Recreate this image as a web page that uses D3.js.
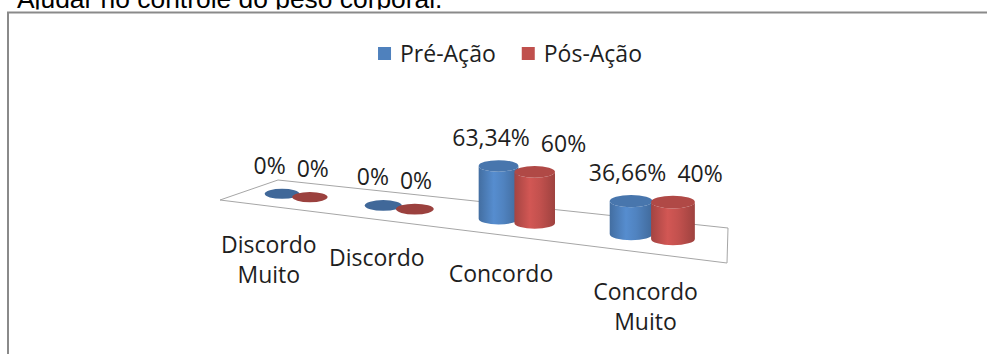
<!DOCTYPE html>
<html>
<head>
<meta charset="utf-8">
<script src="https://cdn.jsdelivr.net/npm/d3@7"></script>
<style>
  html, body { margin: 0; padding: 0; background: #fff; }
  svg { display: block; }
</style>
</head>
<body>
<script>
// ---- data ----
const title = "Ajudar no controle do peso corporal.";
const categories = ["Discordo Muito", "Discordo", "Concordo", "Concordo Muito"];
const seriesNames = ["Pré-Ação", "Pós-Ação"];
const preValues = [0, 0, 63.34, 36.66];
const posValues = [0, 0, 60, 40];
const seriesColors = ["#4F81BD", "#C0504D"];

// ---- layout ----
const W = 987, H = 354;
const font = "'Open Sans', 'Noto Sans', sans-serif";
// floor of the 3-D plot: front-left, front-right, back-right, back-left
const floorQuad = [[220, 200], [727, 263], [728, 228], [278, 180]];
const horizonY = 20;        // eye level of the perspective
const barDepth = 0.47;      // depth of the bar row on the floor (0 = front, 1 = back)
const labelDepth = 0.25;
const ellipseRatio = 0.29;  // vertical / horizontal radius of the cylinder caps

const fmtLocale = d3.formatLocale({ decimal: ",", thousands: ".", grouping: [3], currency: ["", ""] });
const fmtPct = v => fmtLocale.format(".2~f")(v) + "%";

// projective map of the unit square onto the floor quad
function squareToQuad(q) {
  const [[x0, y0], [x1, y1], [x2, y2], [x3, y3]] = q;
  const dx1 = x1 - x2, dx2 = x3 - x2, dx3 = x0 - x1 + x2 - x3;
  const dy1 = y1 - y2, dy2 = y3 - y2, dy3 = y0 - y1 + y2 - y3;
  const det = dx1 * dy2 - dy1 * dx2;
  const g = (dx3 * dy2 - dy3 * dx2) / det;
  const h = (dx1 * dy3 - dy1 * dx3) / det;
  const a = x1 - x0 + g * x1, b = x3 - x0 + h * x3, c = x0;
  const d = y1 - y0 + g * y1, e = y3 - y0 + h * y3, f = y0;
  return (u, v) => {
    const w = g * u + h * v + 1;
    return [(a * u + b * v + c) / w, (d * u + e * v + f) / w];
  };
}
const project = squareToQuad(floorQuad);

// scales
const x0 = d3.scaleBand().domain(categories).range([0, 1]);
const x1 = d3.scaleBand().domain(seriesNames).range([0, x0.bandwidth()]).paddingOuter(0.74);
const heightScale = d3.scaleLinear().domain([0, 100]).range([0, 0.42]); // relative to distance from eye level
const seriesValues = [preValues, posValues];

const svg = d3.select("body").append("svg").attr("width", W).attr("height", H);

// title (partly hidden behind the chart area)
svg.append("text")
  .attr("x", 17).attr("y", 8)
  .attr("font-family", "'Liberation Sans', Arial, sans-serif")
  .attr("font-size", 26.4)
  .attr("fill", "#000")
  .text(title);

svg.append("rect").attr("x", 0).attr("y", 9.5).attr("width", W).attr("height", H).attr("fill", "#fff");
svg.append("path")
  .attr("d", `M8,${H} V12.5 H${W}`)
  .attr("fill", "none").attr("stroke", "#8a8a8a").attr("stroke-width", 2);

// gradients for the cylinder bodies
const defs = svg.append("defs");
seriesColors.forEach((col, i) => {
  const c = d3.color(col);
  const gr = defs.append("linearGradient").attr("id", "body" + i)
    .attr("x1", 0).attr("x2", 1).attr("y1", 0).attr("y2", 0);
  [[0, c.darker(0.45)], [0.38, c.brighter(0.25)], [0.62, c.brighter(0.05)], [1, c.darker(0.55)]]
    .forEach(([o, cc]) => gr.append("stop").attr("offset", o).attr("stop-color", cc.formatHex()));
});

// floor
const floorPts = [[0, 0], [1, 0], [1, 1], [0, 1]].map(([u, v]) => project(u, v));
svg.append("path")
  .attr("d", "M" + floorPts.map(p => p.join(",")).join("L") + "Z")
  .attr("fill", "#fff").attr("stroke", "#a6a6a6").attr("stroke-width", 1);

// bars
const bars = [];
categories.forEach((cat, ci) => {
  seriesNames.forEach((s, si) => {
    const u = x0(cat) + x1(s) + x1.bandwidth() / 2;
    const [cx, yb] = project(u, barDepth);
    const dist = yb - horizonY;
    const value = seriesValues[si][ci];
    bars.push({ cat, ci, s, si, u, cx, yb, value,
      h: heightScale(value) * dist, rx: 0.1 * dist });
  });
});

const gBars = svg.append("g");
bars.forEach(b => {
  const ry = b.rx * ellipseRatio;
  const top = b.yb - b.h;
  const base = d3.color(seriesColors[b.si]);
  const g = gBars.append("g");
  if (b.h > 0) {
    g.append("path")
      .attr("d", `M${b.cx - b.rx},${top} L${b.cx - b.rx},${b.yb} A${b.rx},${ry} 0 0 0 ${b.cx + b.rx},${b.yb} L${b.cx + b.rx},${top} A${b.rx},${ry} 0 0 1 ${b.cx - b.rx},${top} Z`)
      .attr("fill", `url(#body${b.si})`);
  }
  g.append("ellipse")
    .attr("cx", b.cx).attr("cy", top).attr("rx", b.rx).attr("ry", ry)
    .attr("fill", (b.h > 0 ? base.darker(0.25) : base.darker(0.6)).formatHex());
  b.top = top;
});

// value labels
const gLab = svg.append("g").attr("font-family", font).attr("font-size", 23).attr("fill", "#1e1e1e");
categories.forEach((cat, ci) => {
  let prevRight = -Infinity;
  bars.filter(b => b.ci === ci).forEach(b => {
    const [ax] = project(b.u, labelDepth);
    const t = gLab.append("text").attr("y", b.top - 20).text(fmtPct(b.value));
    const w = t.node().getComputedTextLength();
    const left = Math.max(ax - w / 2, prevRight + 11);
    t.attr("x", left);
    prevRight = left + w;
  });
});

// category labels along the front edge
const gCat = svg.append("g").attr("font-family", font).attr("font-size", 23)
  .attr("fill", "#1e1e1e").attr("text-anchor", "middle");
categories.forEach(cat => {
  const [x, y] = project(x0(cat) + x0.bandwidth() / 2, 0);
  const t = gCat.append("text").attr("x", x).attr("y", y + 47);
  cat.split(" ").forEach((word, i) => {
    t.append("tspan").attr("x", x).attr("dy", i === 0 ? 0 : 30).text(word);
  });
});

// legend
const gLeg = svg.append("g").attr("font-family", font).attr("font-size", 23).attr("fill", "#1e1e1e");
let lx = 0;
const items = seriesNames.map((s, i) => {
  const g = gLeg.append("g").attr("transform", `translate(${lx},0)`);
  g.append("rect").attr("x", 0).attr("y", 47).attr("width", 13).attr("height", 13).attr("fill", seriesColors[i]);
  const t = g.append("text").attr("x", 22).attr("y", 62).text(s);
  const w = 22 + t.node().getComputedTextLength();
  lx += w + 26;
  return w;
});
const legW = lx - 26;
gLeg.attr("transform", `translate(${510 - legW / 2},0)`);
</script>
</body>
</html>
